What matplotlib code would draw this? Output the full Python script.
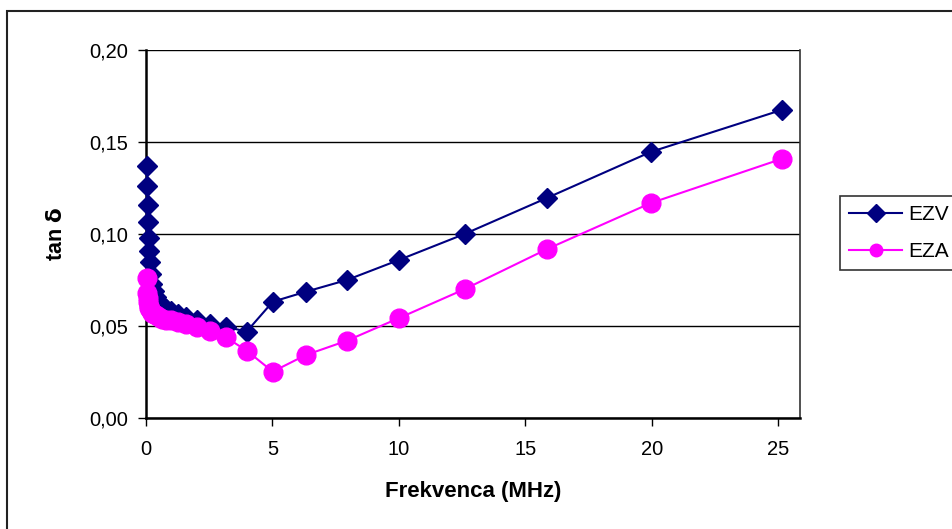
import matplotlib.pyplot as plt
from matplotlib.patches import Rectangle

plt.rcParams['font.family'] = ['Liberation Sans', 'DejaVu Sans']

# frequency points (MHz), log spaced
freq = [0.04, 0.05, 0.063, 0.079, 0.1, 0.126, 0.158, 0.2, 0.25, 0.316, 0.398,
        0.5, 0.63, 0.79, 1.0, 1.26, 1.58, 2.0, 2.51, 3.16, 3.98,
        5.01, 6.31, 7.94, 10.0, 12.59, 15.85, 19.95, 25.12]

ezv = [0.137, 0.126, 0.116, 0.1065, 0.098, 0.091, 0.085, 0.078, 0.073, 0.069, 0.066,
       0.063, 0.061, 0.059, 0.058, 0.0565, 0.055, 0.053, 0.051, 0.0495, 0.047,
       0.0632, 0.0686, 0.075, 0.0859, 0.100, 0.1196, 0.1446, 0.1674]

eza = [0.076, 0.068, 0.065, 0.063, 0.061, 0.060, 0.059, 0.058, 0.057, 0.0565, 0.056,
       0.055, 0.054, 0.0535, 0.053, 0.052, 0.051, 0.0495, 0.0474, 0.0438, 0.0366,
       0.0252, 0.0342, 0.042, 0.0543, 0.070, 0.0918, 0.1168, 0.1408]

xticks = [0, 5, 10, 15, 20, 25]
yticks = [0.0, 0.05, 0.10, 0.15, 0.20]

fig = plt.figure(figsize=(9.53, 5.29), dpi=100)
ax = fig.add_axes([146/953, 1-418/529, (800-146)/953, (418-50)/529])

# outer chart frame
fig.patches.append(Rectangle((7.5/953, -0.1), 1.2, 1.1 - 10.5/529,
                             transform=fig.transFigure, fill=False,
                             edgecolor='#222222', linewidth=1.5))

ax.plot(freq, ezv, color='#000080', lw=1.5, marker='D', ms=10,
        label='EZV', zorder=3, clip_on=False)
ax.plot(freq, eza, color='#FF00FF', lw=1.5, marker='o', ms=13.5,
        label='EZA', zorder=4, clip_on=False)

ax.set_xlim(0, 25.85)
ax.set_ylim(0, 0.20)
ax.set_xticks(xticks)
ax.set_yticks(yticks)
ax.set_yticklabels([f'{v:.2f}'.replace('.', ',') for v in yticks])
ax.tick_params(labelsize=14.5, direction='out', length=6, width=1, pad=7)
ax.tick_params(axis='x', pad=10)
ax.yaxis.grid(True, color='black', lw=1)
ax.set_axisbelow(True)
for s in ['left', 'bottom']:
    ax.spines[s].set_linewidth(1.8)
for s in ['top', 'right']:
    ax.spines[s].set_linewidth(1.2)
    ax.spines[s].set_color('#333333')
ax.spines['top'].set_visible(False)

ax.set_xlabel('Frekvenca (MHz)', fontsize=16, fontweight='bold', labelpad=16)
ax.set_ylabel(r'tan $\mathbf{\delta}$', fontsize=15.5, fontweight='bold', labelpad=16)

leg = ax.legend(loc='upper left', bbox_to_anchor=(840/953, 1-196/529),
                bbox_transform=fig.transFigure, fontsize=15, frameon=True,
                fancybox=False, edgecolor='black', handlelength=2.55,
                borderpad=0.45, labelspacing=0.85, handletextpad=0.3,
                borderaxespad=0)
leg.get_frame().set_linewidth(1.2)
for h in leg.legend_handles:
    h.set_markersize(9)

fig.savefig('out.png', dpi=100)
